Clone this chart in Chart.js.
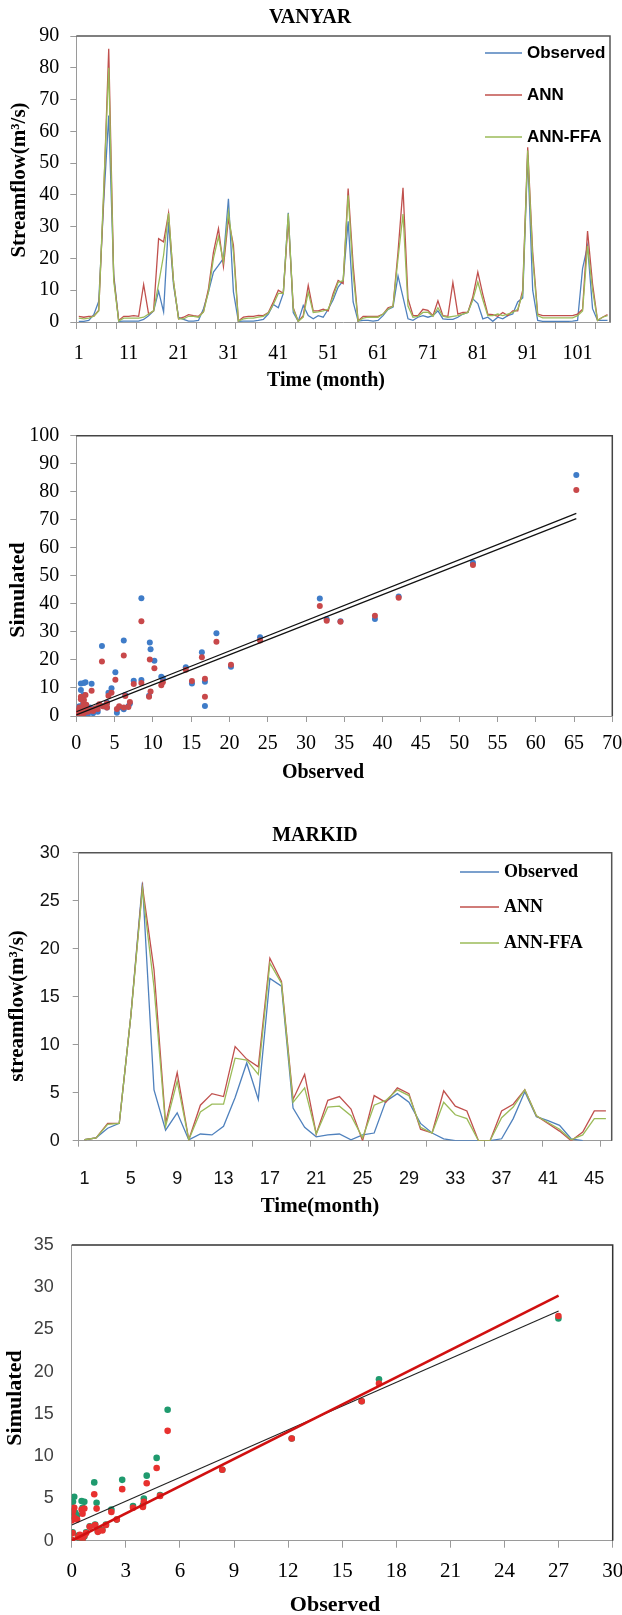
<!DOCTYPE html>
<html><head><meta charset="utf-8">
<script src="https://cdn.jsdelivr.net/npm/chart.js@4.4.1/dist/chart.umd.min.js"></script>
<style>
html,body{margin:0;padding:0;background:#fff;}
#wrap{position:relative;width:622px;height:1615px;overflow:hidden;}
canvas{position:absolute;left:0;}
</style></head><body>
<div id="wrap">
<canvas id="c1" width="622" height="405" style="top:0px"></canvas>
<canvas id="c2" width="622" height="410" style="top:405px"></canvas>
<canvas id="c3" width="622" height="410" style="top:815px"></canvas>
<canvas id="c4" width="622" height="390" style="top:1225px"></canvas>
</div>
<script>
// ---------- Panel 1: VANYAR time series (107 months) ----------
const vanyarMonths = Array.from({length:107}, (_, i) => String(i + 1));
const vanyarObserved = [0.2,0.2,0.5,2.3,6.5,38,65,15,0.2,0.3,
 0.3,0.3,0.3,0.8,2.0,3.5,9.7,3.2,31.5,11.5,
 1.5,0.8,0.3,0.3,0.5,4.2,9.5,15.7,17.8,20,
 38.8,9.5,0.2,0.3,0.3,0.3,0.5,0.8,2.5,5.5,
 4.5,9,34.4,3,0.2,5.2,2,1.0,2.0,1.5,
 4.0,7,11,13,31.7,6.3,0.3,0.5,0.5,0.3,
 0.5,2,4,4.7,14.5,7.8,1.0,0.5,1.5,2,
 1.5,2.0,3.5,1.0,0.8,0.8,1.5,2.5,3.0,7.3,
 5.8,1.0,1.5,0.2,1.5,1.0,2.0,2.5,6.3,7.6,
 52.5,10,0.5,0.2,0.2,0.2,0.2,0.2,0.2,0.3,
 0.5,16.8,24,4.2,0.5,0.5,0.5];
const vanyarANN = [1.8,1.5,1.8,1.8,3.7,40,86,14,0.5,1.8,
 1.8,2.0,1.8,11.8,2.5,3.5,26.2,25.2,34.3,12.6,
 1.0,1.5,2.3,2.0,1.8,3.2,10.5,22,29.4,17.5,
 32.5,24.1,0.3,1.5,1.8,1.8,2.1,2.0,3.0,6.3,
 10,9,32.5,4.5,0.2,2,11.5,3.5,3.5,4.0,
 3.5,9,13.1,12.1,42,18,0.3,1.8,1.8,1.8,
 1.8,2.5,4.5,5,22,42.2,7.3,2.1,2.0,4,
 3.7,2.0,6.7,2.0,1.8,12.4,2.5,3.0,3.0,8,
 15.7,8.7,2.5,2.3,1.8,3.0,2.0,3.5,3.5,10,
 55,22,2.5,2.0,2.0,2.0,2.0,2.0,2.0,2.0,
 2.5,4,28.6,12,0.5,1.5,2.3];
const vanyarFFA = [1.2,1.0,1.2,1.8,3.5,42,80,13,0.3,1.2,
 1.2,1.2,1.2,1.5,2.5,3.5,12,21,34.3,12.6,
 1.0,1.0,1.8,1.8,1.5,3.2,9.5,20,26.8,19,
 34.6,22,0.3,1.0,1.2,1.2,1.5,1.8,2.8,5.5,
 9,9,34.1,4,0.2,1.5,9.4,3.0,3.2,3.5,
 4.0,8,12.5,13,39.9,15,0.3,1.2,1.5,1.5,
 1.5,2.5,4,5,20,34,5,1.5,1.8,3,
 3.1,1.8,4.5,1.8,1.5,1.8,2.0,2.5,3.0,7,
 12.6,7,2.0,2.0,2.5,2.0,2.5,3.0,4.0,9,
 54,20,2.0,1.3,1.3,1.3,1.3,1.3,1.3,1.3,
 2.0,3.5,24,10,0.5,1.5,2.0];

// ---------- Panel 2: VANYAR scatter ----------
const vanyarScatObs = [65.3,51.8,42.1,39.0,34.5,32.7,31.8,24.0,20.2,18.3,16.4,16.8,16.8,15.1,14.3,11.1,11.3,10.2,9.6,9.7,9.5,8.5,8.5,7.5,6.2,6.4,5.1,4.6,4.2,4.0,3.35,2.0,0.6,1.0,1.2,0.6,0.96,6.2,5.3,5.6,6.8,7.0,4.0,3.5,3.0,2.5,2.0,1.5,0.1,0.2,0.3,0.5,0.7,0.8,1.0,1.2,1.5,1.8,0.4,0.9,1.3,2.2,2.8,0.2,0.6];
const vanyarScatANN = [86.0,54.7,42.6,34.6,33.8,34.5,41.9,28.1,17.6,29.5,22.7,12.2,3.6,11.6,17.4,14.0,13.5,19.7,26.2,23.8,7.2,42.0,12.8,12.6,26.9,7.5,15.6,9.9,8.3,4.8,25.0,11.5,11.6,11.8,12.0,9.3,7.5,2.4,1.2,3.0,3.5,4.5,3.0,3.5,4.0,2.5,2.0,1.5,0.5,1.0,0.3,2.0,0.5,1.5,0.2,2.5,0.5,3.0,3.5,4.5,3.5,1.0,1.5,2.0,1.0];
const vanyarScatFFA = [80.6,53.9,42.2,35.8,33.6,34.0,39.2,26.9,18.3,26.5,21.0,13.3,6.9,12.5,16.5,11.0,12.0,17.0,20.2,8.7,6.9,33.8,11.8,11.4,21.6,7.1,12.9,8.3,7.2,4.5,19.4,9.0,6.9,5.7,7.5,6.0,4.5,3.0,2.5,3.5,3.2,5.0,3.0,3.5,4.2,2.8,2.2,2.0,1.0,1.5,0.8,1.5,1.2,2.5,1.0,3.0,1.5,2.0,3.0,3.5,4.0,1.8,2.5,2.0,0.5];
const vanyarFitX = [0, 65.3];
const vanyarFitANN = [1.5, 72.3];
const vanyarFitFFA = [0.4, 70.4];

// ---------- Panel 3: MARKID time series (46 months) ----------
const markidMonths = Array.from({length:46}, (_, i) => String(i + 1));
const markidObserved = [0.1,0.3,1.3,1.8,13,26.9,5.3,1.1,2.9,0.1,0.7,0.6,1.5,4.5,8.1,4.3,16.9,16.1,3.4,1.4,0.4,0.6,0.7,0.1,0.6,0.8,4.1,4.9,4.0,1.8,0.8,0.2,0,0,0,0,0.2,2.3,5.1,2.5,2.1,1.6,0.2,0,null,null];
const markidANN = [0.1,0.3,1.8,1.8,13,26.5,17.8,1.8,7.1,0.1,3.7,4.9,4.6,9.8,8.5,7.7,19.0,16.6,4.3,6.9,0.7,4.2,4.6,3.3,0,4.7,4.0,5.5,4.9,1.2,0.8,5.2,3.6,3.1,0,0,3.1,3.8,5.3,2.6,1.8,1.0,0,0.9,3.1,3.1];
const markidFFA = [0.1,0.3,1.7,1.8,13,26.2,16,1.5,6.2,0.1,3.0,3.8,3.8,8.6,8.4,6.9,18.5,16.4,4.0,5.5,0.7,3.5,3.6,2.6,0.3,3.7,4.2,5.3,4.7,1.4,0.8,4.0,2.7,2.3,0,0,2.4,3.5,5.3,2.6,1.9,1.2,0.1,0.6,2.3,2.3];

// ---------- Panel 4: MARKID scatter ----------
const markidScatObs = [26.99,17.04,16.08,12.2,8.35,5.32,4.71,4.16,4.0,3.95,4.9,2.8,1.25,1.38,2.2,2.5,3.4,1.9,1.7,1.45,1.3,1.0,0.55,0.7,0.14,0.07,0,0.05,0,0.45,0.2,0.3,0.6,0.6,0.7,0.8,0.1,0.35];
const markidScatANN = [26.3,19.1,16.5,12.1,8.4,15.5,9.8,7.7,5.0,4.2,5.4,7.2,6.9,4.5,3.7,2.5,4.1,1.9,1.3,1.1,1.9,1.7,4.7,4.6,5.2,4.6,3.4,1.0,0.1,0.2,3.3,3.0,3.9,0.2,0.5,1.0,2.9,0.6];
const markidScatFFA = [26.6,18.6,16.5,12.1,8.4,13.0,8.6,6.8,4.6,4.0,5.3,6.1,5.5,3.8,3.4,2.5,3.9,1.85,1.2,1.05,1.85,1.65,3.7,3.8,3.9,3.5,2.4,0.9,0.1,0.7,2.6,2.5,3.2,0.1,0.6,0.9,2.8,0.4];
const markidFitX = [0, 27];
const markidFitANN = [1.86, 27.2];
const markidFitFFA = [0.0, 29.0];

// ---------- styling ----------
const SERIF = "'Liberation Serif','Times New Roman',serif";
const SANS = "'Liberation Sans',Arial,sans-serif";
const C_OBS = '#4F81BD', C_ANN = '#C0504D', C_FFA = '#9BBB59';
const AXIS = '#9a9a9a';
Chart.defaults.font.family = SERIF;
Chart.defaults.animation = false;

function decor(cfg) {
  return {
    id: 'decor',
    afterDraw(chart) {
      const ctx = chart.ctx, a = chart.chartArea;
      ctx.save();
      ctx.strokeStyle = cfg.frameColor || '#4d4d4d';
      ctx.lineWidth = cfg.frameWidth || 1.5;
      ctx.beginPath();
      ctx.moveTo(a.left, a.top); ctx.lineTo(a.right, a.top); ctx.lineTo(a.right, a.bottom);
      ctx.stroke();
      (cfg.texts || []).forEach(t => {
        ctx.save();
        ctx.font = t.font; ctx.fillStyle = '#000';
        ctx.textAlign = 'center'; ctx.textBaseline = 'middle';
        ctx.translate(t.x, t.y);
        if (t.rot) ctx.rotate(t.rot);
        ctx.fillText(t.text, 0, 0);
        ctx.restore();
      });
      if (cfg.legend) {
        const L = cfg.legend;
        chart.data.datasets.forEach((ds, i) => {
          const y = L.rows[i];
          ctx.strokeStyle = ds.borderColor; ctx.lineWidth = 1.5;
          ctx.beginPath(); ctx.moveTo(L.x0, y); ctx.lineTo(L.x1, y); ctx.stroke();
          ctx.font = L.font; ctx.fillStyle = '#000';
          ctx.textAlign = 'left'; ctx.textBaseline = 'middle';
          ctx.fillText(ds.label, L.tx, y);
        });
      }
      ctx.restore();
    }
  };
}

function fixY(w) { return s => { s.width = w; s.paddingTop = 0; s.paddingBottom = 0; }; }
function fixX(h) { return s => { s.height = h; s.paddingLeft = 0; s.paddingRight = 0; }; }

const baseOpts = {
  responsive: false, animation: false,
  plugins: { legend: { display: false }, tooltip: { enabled: false } }
};

// ---------- Chart 1 ----------
new Chart(document.getElementById('c1'), {
  type: 'line',
  data: {
    labels: vanyarMonths,
    datasets: [
      { label: 'Observed', data: vanyarObserved, borderColor: C_OBS, borderWidth: 1.3, pointRadius: 0, order: 3 },
      { label: 'ANN', data: vanyarANN, borderColor: C_ANN, borderWidth: 1.3, pointRadius: 0, order: 2 },
      { label: 'ANN-FFA', data: vanyarFFA, borderColor: C_FFA, borderWidth: 1.3, pointRadius: 0, order: 1 }
    ]
  },
  options: Object.assign({}, baseOpts, {
    layout: { padding: { left: 0, top: 36, right: 12, bottom: 0 } },
    scales: {
      x: {
        type: 'category', offset: true,
        border: { color: AXIS, width: 1 },
        grid: { offset: true, drawOnChartArea: false, tickLength: 7,
          tickColor: c => (c.index !== undefined && c.index % 4 === 0) ? AXIS : 'rgba(0,0,0,0)' },
        ticks: { autoSkip: false, maxRotation: 0, minRotation: 0, padding: 13, color: '#000',
          font: { family: SERIF, size: 20 },
          callback: (v, i) => (i % 10 === 0 ? vanyarMonths[i] : '') },
        afterFit: fixX(83)
      },
      y: {
        min: 0, max: 90,
        border: { color: AXIS, width: 1 },
        grid: { drawOnChartArea: false, tickLength: 6, tickColor: AXIS },
        ticks: { stepSize: 10, padding: 11, color: '#000', font: { family: SERIF, size: 20 } },
        afterFit: fixY(76.3)
      }
    }
  }),
  plugins: [decor({
    frameColor: '#555',
    texts: [
      { text: 'VANYAR', x: 310, y: 18, font: 'bold 20px ' + SERIF },
      { text: 'Time (month)', x: 326, y: 381, font: 'bold 20px ' + SERIF },
      { text: 'Streamflow(m\u00B3/s)', x: 20, y: 180, rot: -Math.PI / 2, font: 'bold 21px ' + SERIF }
    ],
    legend: { x0: 485, x1: 522, tx: 527, rows: [53, 95, 137], font: 'bold 17px ' + SANS }
  })]
});

// ---------- Chart 2 ----------
new Chart(document.getElementById('c2'), {
  type: 'scatter',
  data: {
    datasets: [
      { label: 'fitA', showLine: true, data: vanyarFitX.map((x, i) => ({ x, y: vanyarFitANN[i] })), borderColor: '#111', borderWidth: 1.2, pointRadius: 0, order: 0 },
      { label: 'fitB', showLine: true, data: vanyarFitX.map((x, i) => ({ x, y: vanyarFitFFA[i] })), borderColor: '#111', borderWidth: 1.2, pointRadius: 0, order: 0 },
      { label: 'ANN', data: vanyarScatObs.map((x, i) => ({ x, y: vanyarScatANN[i] })), pointRadius: 3, pointBackgroundColor: '#3f7cc8', pointBorderColor: '#3f7cc8', pointBorderWidth: 0, order: 2 },
      { label: 'ANN-FFA', data: vanyarScatObs.map((x, i) => ({ x, y: vanyarScatFFA[i] })), pointRadius: 3, pointBackgroundColor: '#c8484a', pointBorderColor: '#c8484a', pointBorderWidth: 0, order: 1 }
    ]
  },
  options: Object.assign({}, baseOpts, {
    layout: { padding: { left: 0, top: 30.7, right: 9.7, bottom: 0 } },
    scales: {
      x: {
        type: 'linear', min: 0, max: 70,
        border: { color: AXIS, width: 1 },
        grid: { drawOnChartArea: false, tickLength: 6, tickColor: AXIS },
        ticks: { stepSize: 5, padding: 10, color: '#000', maxRotation: 0, font: { family: SERIF, size: 20 } },
        afterFit: fixX(99)
      },
      y: {
        min: 0, max: 100,
        border: { color: AXIS, width: 1 },
        grid: { drawOnChartArea: false, tickLength: 6, tickColor: AXIS },
        ticks: { stepSize: 10, padding: 11, color: '#000', font: { family: SERIF, size: 20 } },
        afterFit: fixY(76.3)
      }
    }
  }),
  plugins: [decor({
    frameColor: '#444',
    texts: [
      { text: 'Observed', x: 323, y: 368, font: 'bold 20px ' + SERIF },
      { text: 'Simulated', x: 18, y: 185, rot: -Math.PI / 2, font: 'bold 22px ' + SERIF }
    ]
  })]
});

// ---------- Chart 3 ----------
new Chart(document.getElementById('c3'), {
  type: 'line',
  data: {
    labels: markidMonths,
    datasets: [
      { label: 'Observed', data: markidObserved, borderColor: C_OBS, borderWidth: 1.3, pointRadius: 0, spanGaps: false, order: 3 },
      { label: 'ANN', data: markidANN, borderColor: C_ANN, borderWidth: 1.3, pointRadius: 0, order: 2 },
      { label: 'ANN-FFA', data: markidFFA, borderColor: C_FFA, borderWidth: 1.3, pointRadius: 0, order: 1 }
    ]
  },
  options: Object.assign({}, baseOpts, {
    layout: { padding: { left: 0, top: 37.7, right: 10.3, bottom: 0 } },
    scales: {
      x: {
        type: 'category', offset: true,
        border: { color: AXIS, width: 1 },
        grid: { offset: true, drawOnChartArea: false, tickLength: 6,
          tickColor: c => (c.index !== undefined && c.index % 5 === 0) ? AXIS : 'rgba(0,0,0,0)' },
        ticks: { autoSkip: false, maxRotation: 0, minRotation: 0, padding: 22, color: '#111',
          font: { family: SANS, size: 18 },
          callback: (v, i) => (i % 4 === 0 ? markidMonths[i] : '') },
        afterFit: fixX(84.3)
      },
      y: {
        min: 0, max: 30,
        border: { color: AXIS, width: 1 },
        grid: { drawOnChartArea: false, tickLength: 6, tickColor: AXIS },
        ticks: { stepSize: 5, padding: 13, color: '#111', font: { family: SANS, size: 18 } },
        afterFit: fixY(78.7)
      }
    }
  }),
  plugins: [decor({
    frameColor: '#555',
    texts: [
      { text: 'MARKID', x: 315, y: 21, font: 'bold 20px ' + SERIF },
      { text: 'Time(month)', x: 320, y: 392, font: 'bold 21px ' + SERIF },
      { text: 'streamflow(m\u00B3/s)', x: 18, y: 191, rot: -Math.PI / 2, font: 'bold 21px ' + SERIF }
    ],
    legend: { x0: 460, x1: 499, tx: 504, rows: [57, 92, 128], font: 'bold 18px ' + SERIF }
  })]
});

// ---------- Chart 4 ----------
new Chart(document.getElementById('c4'), {
  type: 'scatter',
  data: {
    datasets: [
      { label: 'fitANN', showLine: true, data: markidFitX.map((x, i) => ({ x, y: markidFitANN[i] })), borderColor: '#222', borderWidth: 1.1, pointRadius: 0, order: 1 },
      { label: 'fitFFA', showLine: true, data: markidFitX.map((x, i) => ({ x, y: markidFitFFA[i] })), borderColor: '#d01010', borderWidth: 2.6, pointRadius: 0, order: 0 },
      { label: 'ANN', data: markidScatObs.map((x, i) => ({ x, y: markidScatANN[i] })), pointRadius: 3.3, pointBackgroundColor: '#1f9a6e', pointBorderColor: '#1f9a6e', pointBorderWidth: 0, order: 3 },
      { label: 'ANN-FFA', data: markidScatObs.map((x, i) => ({ x, y: markidScatFFA[i] })), pointRadius: 3.3, pointBackgroundColor: '#e8312f', pointBorderColor: '#e8312f', pointBorderWidth: 0, order: 2 }
    ]
  },
  options: Object.assign({}, baseOpts, {
    layout: { padding: { left: 0, top: 20, right: 9.3, bottom: 0 } },
    scales: {
      x: {
        type: 'linear', min: 0, max: 30,
        border: { color: AXIS, width: 1 },
        grid: { drawOnChartArea: false, tickLength: 7, tickColor: AXIS },
        ticks: { stepSize: 3, padding: 11, color: '#000', maxRotation: 0, font: { family: SERIF, size: 21 } },
        afterFit: fixX(74.3)
      },
      y: {
        min: 0, max: 35,
        border: { color: AXIS, width: 1 },
        grid: { drawOnChartArea: false, drawTicks: false },
        ticks: { stepSize: 5, padding: 18, color: '#404040', font: { family: SANS, size: 18 } },
        afterFit: fixY(71.7)
      }
    }
  }),
  plugins: [decor({
    frameColor: '#333',
    texts: [
      { text: 'Observed', x: 335, y: 380, font: 'bold 22px ' + SERIF },
      { text: 'Simulated', x: 15, y: 173, rot: -Math.PI / 2, font: 'bold 22px ' + SERIF }
    ]
  })]
});
</script>
</body></html>
